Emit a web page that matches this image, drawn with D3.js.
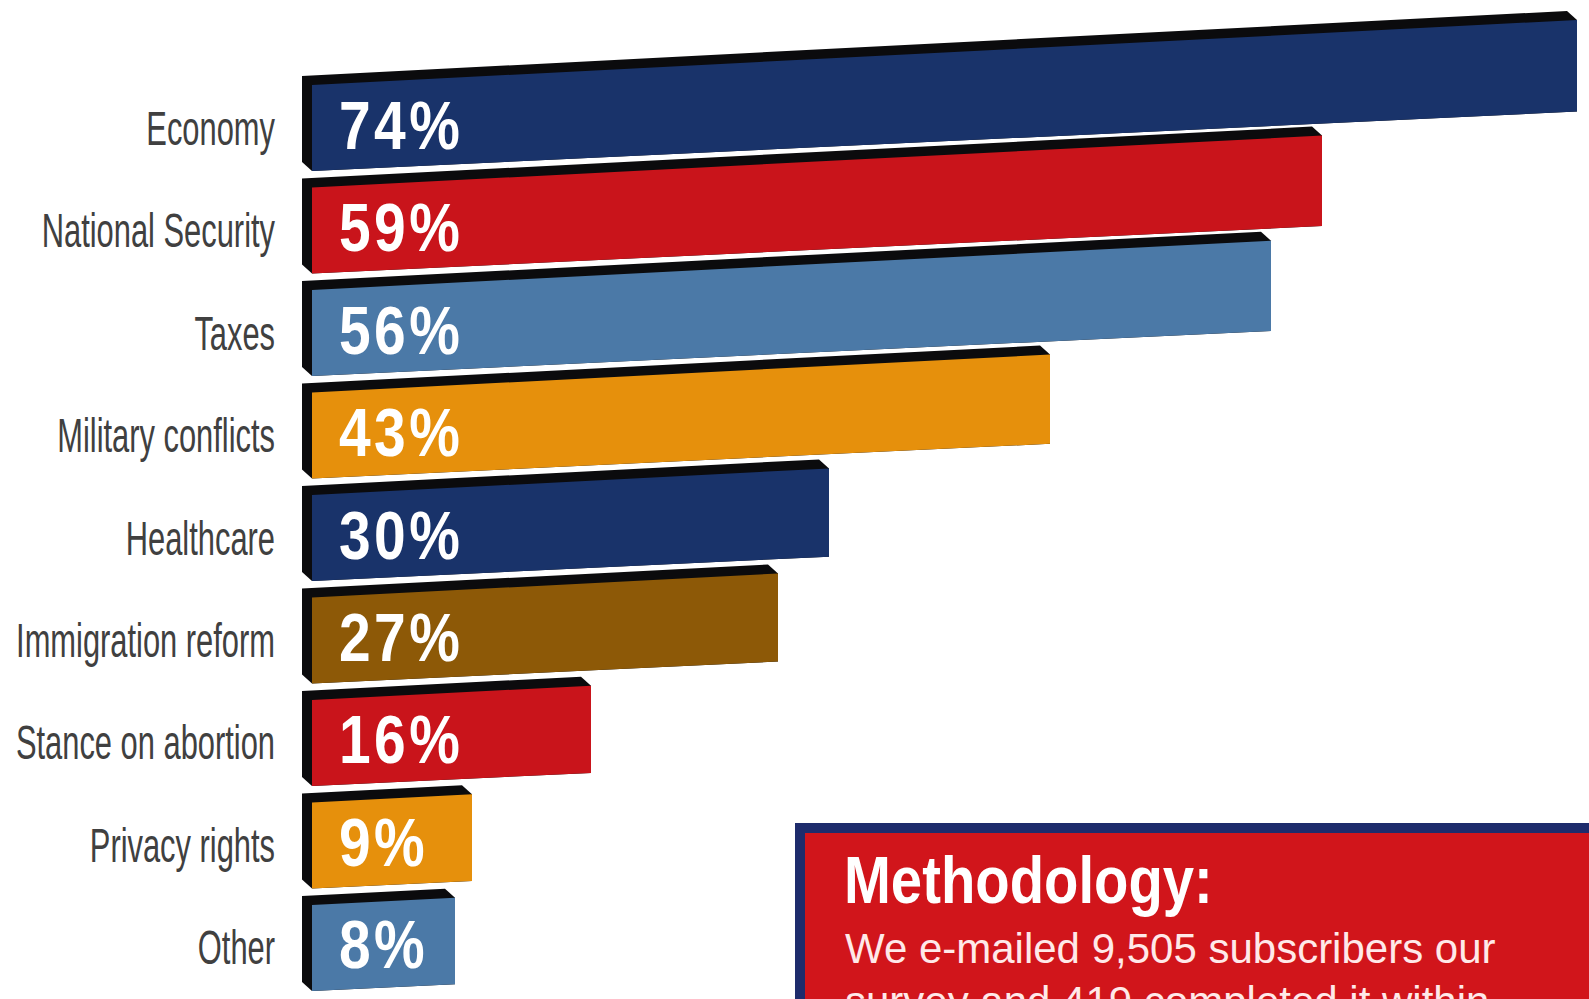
<!DOCTYPE html>
<html>
<head>
<meta charset="utf-8">
<script src="https://cdn.jsdelivr.net/npm/d3@7"></script>
<style>
  html, body { margin: 0; padding: 0; background: #ffffff; overflow: hidden; }
  svg { display: block; }
</style>
</head>
<body>
<svg id="chart" width="1589" height="999"></svg>
<script>
const categories = ["Economy", "National Security", "Taxes", "Military conflicts", "Healthcare",
                    "Immigration reform", "Stance on abortion", "Privacy rights", "Other"];
const values = [74, 59, 56, 43, 30, 27, 16, 9, 8];
const palette = ["#19336a", "#c9141b", "#4b79a7", "#e6900c", "#19336a", "#8d5907", "#c9141b", "#e6900c", "#4b79a7"];
const methodTitle = "Methodology:";
const methodLines = ["We e-mailed 9,505 subscribers our", "survey and 419 completed it within"];

const svg = d3.select("#chart");
const W = 1589, H = 999;

const x = d3.scaleLinear().domain([0, 74]).range([319, 1577]);
const y = d3.scaleBand().domain(categories).range([85, 990]).paddingInner(0.1707).paddingOuter(0);
const color = d3.scaleOrdinal().domain(categories).range(palette);

const x0 = 312;            // left edge of the front face
const sTop = 0.0514;       // perspective slope of the top edge
const sBot = 0.047;        // perspective slope of the bottom edge
const dx = 10, dy = 9;     // extrusion depth (up-left)

function frontPts(d, i) {
  const x1 = x(values[i]);
  const yT = y(d), yB = y(d) + y.bandwidth() + 1;
  return [[x0, yT], [x1, yT - sTop * (x1 - x0)], [x1, yB - sBot * (x1 - x0)], [x0, yB]];
}
function shadowPts(d, i) {
  const f = frontPts(d, i);
  return [
    f[3],
    [f[3][0] - dx, f[3][1] - dy],
    [f[0][0] - dx, f[0][1] - dy],
    [f[1][0] - dx, f[1][1] - dy],
    f[1],
    f[2]
  ];
}
const line = d3.line();

const bars = svg.append("g").selectAll("g.bar")
  .data(categories)
  .join("g").attr("class", "bar");

bars.append("path")
  .attr("d", (d, i) => line(shadowPts(d, i)) + "Z")
  .attr("fill", "#0b0b0d");

bars.append("path")
  .attr("d", (d, i) => line(frontPts(d, i)) + "Z")
  .attr("fill", d => color(d));

// value labels (condensed via horizontal scale)
bars.append("text")
  .attr("transform", d => `translate(339,${y(d) + y.bandwidth() / 2 + 21}) scale(0.85,1.02)`)
  .attr("font-family", "'Liberation Sans', Arial, sans-serif")
  .attr("font-weight", "bold")
  .attr("font-size", 67)
  .attr("letter-spacing", 4)
  .attr("fill", "#ffffff")
  .text((d, i) => values[i] + "%");

// category labels
svg.append("g").selectAll("text")
  .data(categories)
  .join("text")
  .attr("transform", d => `translate(275,${y(d) + y.bandwidth() / 2 + 17}) scale(0.63,1)`)
  .attr("text-anchor", "end")
  .attr("font-family", "'Liberation Sans', Arial, sans-serif")
  .attr("font-size", 49)
  .attr("fill", "#404040")
  .text(d => d);

// methodology box
const box = svg.append("g");
box.append("rect").attr("x", 795).attr("y", 823).attr("width", W - 795 + 20).attr("height", H - 823 + 20)
  .attr("fill", "#1e2c6c");
box.append("rect").attr("x", 805).attr("y", 833).attr("width", W - 805 + 20).attr("height", H - 833 + 20)
  .attr("fill", "#d1151b");
box.append("text")
  .attr("transform", "translate(844,903) scale(0.84,1)")
  .attr("font-family", "'Liberation Sans', Arial, sans-serif")
  .attr("font-weight", "bold")
  .attr("font-size", 67)
  .attr("fill", "#ffffff")
  .text(methodTitle);
box.selectAll("text.body")
  .data(methodLines)
  .join("text").attr("class", "body")
  .attr("x", 845)
  .attr("y", (d, i) => 963 + i * 53)
  .attr("font-family", "'Liberation Sans', Arial, sans-serif")
  .attr("font-size", 42)
  .attr("fill", "#ffe9e9")
  .text(d => d);
</script>
</body>
</html>
